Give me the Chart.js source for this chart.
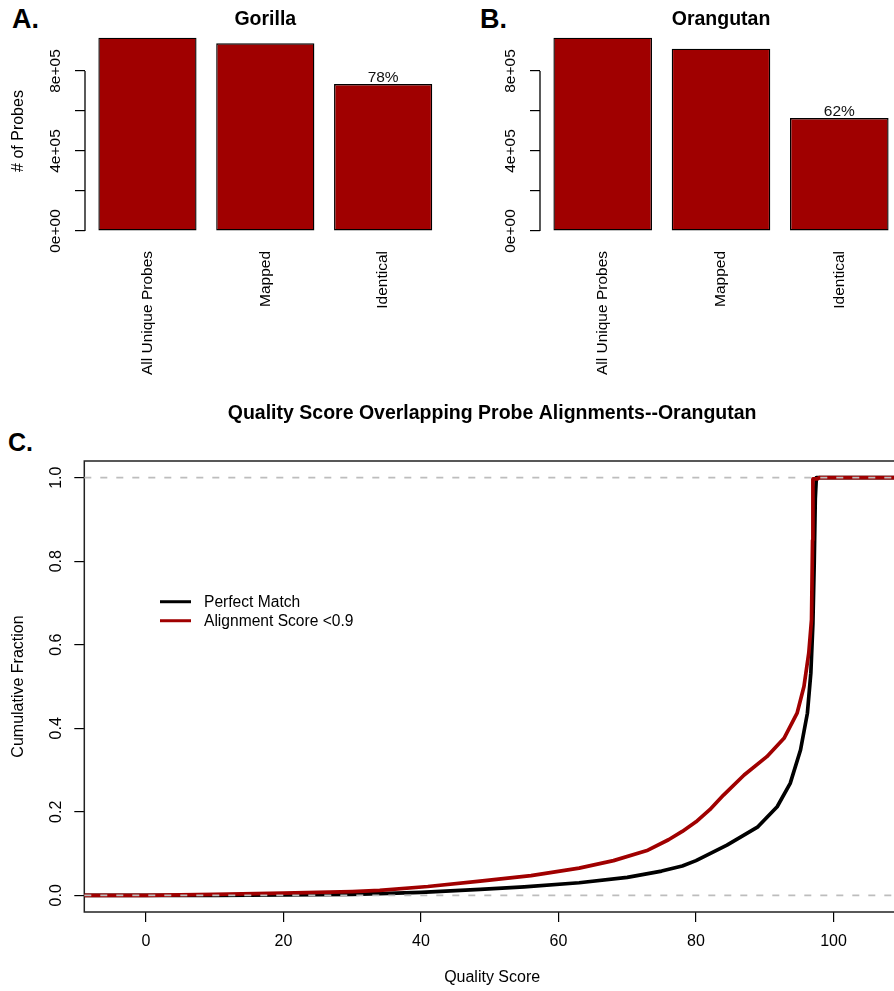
<!DOCTYPE html>
<html lang="en">
<head>
  <meta charset="UTF-8">
  <title>Probe alignment summary</title>
  <script src="https://cdn.jsdelivr.net/npm/chart.js"></script>
  <style>
    html, body { margin: 0; padding: 0; overflow: hidden; background: #fff; }
    body {
      width: 894px;
      height: 991px;
      position: relative;
      font-family: 'Liberation Sans', Arial, Helvetica, sans-serif;
    }
    canvas { position: absolute; }
    #gorilla { left: 0; top: 0; }
    #orangutan { left: 455px; top: 0; }
    #quality { left: 0; top: 390px; }
    /* panel letters */
    .tag { position: absolute; font-weight: bold; font-size: 27px; line-height: 27px; color: #000; }
  </style>
</head>
<body>
  <div class="tag" style="left:12px;top:6px">A.</div>
  <div class="tag" style="left:480px;top:6px">B.</div>
  <div class="tag" style="left:8px;top:430px;font-size:25px;line-height:25px">C.</div>
  <canvas id="gorilla" width="450" height="390"></canvas>
  <canvas id="orangutan" width="450" height="390"></canvas>
  <canvas id="quality" width="910" height="601"></canvas>

  <script>
    // panels A and B
    const barCategories = ['All Unique Probes', 'Mapped', 'Identical'];
    const gorillaCounts = [966500, 938500, 735000];
    const orangutanCounts = [966500, 911500, 565000];
    const gorillaPct = ['', '', '78%'];
    const orangutanPct = ['', '', '62%'];
    const countTicks = [0, 200000, 400000, 600000, 800000];
    const countTickLabels = ['0e+00', '', '4e+05', '', '8e+05'];

    // panel C
    const pmScore = [-9, 10, 20, 30, 34, 40, 48.6, 55, 63, 70, 75, 78, 80, 84.5, 89, 91.8, 93.7, 95.2, 96.2, 96.7, 97.0, 97.2, 97.35, 97.5, 112];
    const pmFrac  = [0, 0, 0.001, 0.002, 0.004, 0.007, 0.014, 0.02, 0.03, 0.043, 0.058, 0.07, 0.083, 0.12, 0.164, 0.212, 0.268, 0.348, 0.436, 0.532, 0.65, 0.8, 0.95, 1.0, 1.0];
    const lowScore = [-9, 0, 10, 20, 30, 34, 41, 48.6, 56, 63, 68, 73, 76, 78, 80, 82, 84, 87, 90.3, 92.8, 94.7, 95.7, 96.4, 96.8, 96.95, 97.0, 97.7, 97.9, 112];
    const lowFrac  = [0, 0, 0.002, 0.005, 0.009, 0.012, 0.021, 0.034, 0.047, 0.065, 0.083, 0.108, 0.133, 0.153, 0.176, 0.205, 0.24, 0.288, 0.332, 0.376, 0.436, 0.5, 0.58, 0.66, 0.85, 0.997, 0.997, 1.0, 1.0];
    const scoreTicks = [0, 20, 40, 60, 80, 100];
    const fracTicks = [0, 0.2, 0.4, 0.6, 0.8, 1.0];
    const refLines = [0, 1];

    const FONT = "'Liberation Sans', Arial, Helvetica, sans-serif";
    Chart.defaults.font.family = FONT;
    Chart.defaults.color = '#000';
    const darkRed = '#A00000';

    // R style axis line, only from first to last tick
    const countAxisLine = {
      id: 'countAxisLine',
      afterDraw(chart) {
        const y = chart.scales.y;
        const ctx = chart.ctx;
        const x0 = chart.chartArea.left;
        ctx.save();
        ctx.strokeStyle = '#000';
        ctx.lineWidth = 1.3;
        ctx.beginPath();
        ctx.moveTo(x0, y.getPixelForValue(countTicks[0]));
        ctx.lineTo(x0, y.getPixelForValue(countTicks[countTicks.length - 1]));
        ctx.stroke();
        ctx.restore();
      }
    };

    const pctLabels = {
      id: 'pctLabels',
      afterDatasetsDraw(chart, args, opts) {
        const ctx = chart.ctx;
        const bars = chart.getDatasetMeta(0).data;
        ctx.save();
        ctx.font = '15.5px ' + FONT;
        ctx.fillStyle = '#111';
        ctx.textAlign = 'center';
        ctx.textBaseline = 'alphabetic';
        bars.forEach((bar, i) => {
          if (opts.labels[i]) ctx.fillText(opts.labels[i], bar.x, bar.y - 2);
        });
        ctx.restore();
      }
    };

    function barChart(id, title, counts, pct, yTitle, padRight) {
      return new Chart(document.getElementById(id), {
        type: 'bar',
        data: {
          datasets: [{
            data: counts.map((v, i) => ({ x: i, y: v })),
            backgroundColor: darkRed,
            borderColor: '#000',
            borderWidth: 1.4,
            borderSkipped: false,
            categoryPercentage: 1,
            barPercentage: 1 / 1.2
          }]
        },
        options: {
          responsive: false,
          animation: false,
          layout: { padding: { left: 0, right: padRight, top: 0, bottom: 0 } },
          plugins: {
            legend: { display: false },
            tooltip: { enabled: false },
            title: {
              display: true,
              text: title,
              fullSize: false,
              font: { size: 19.5, weight: 'bold' },
              padding: { top: 7.6, bottom: 0 }
            },
            pctLabels: { labels: pct }
          },
          scales: {
            x: {
              type: 'linear',
              min: -0.53,
              max: 2.53,
              offset: false,
              grid: { display: false, drawTicks: false },
              border: { display: false },
              afterBuildTicks: s => { s.ticks = barCategories.map((c, i) => ({ value: i })); },
              afterFit: s => { s.height = 159; },
              ticks: {
                autoSkip: false,
                minRotation: 90,
                maxRotation: 90,
                padding: 20,
                font: { size: 15.5 },
                callback: v => barCategories[v]
              }
            },
            y: {
              min: 0,
              max: 1000000,
              border: { display: false },
              grid: { drawOnChartArea: false, drawTicks: true, tickLength: 10, color: '#000', lineWidth: 1.2 },
              afterBuildTicks: s => { s.ticks = countTicks.map(v => ({ value: v })); },
              afterFit: s => { s.width = 85; },
              ticks: {
                autoSkip: false,
                minRotation: 90,
                maxRotation: 90,
                crossAlign: 'center',
                padding: -2.75,
                font: { size: 15.5 },
                callback: v => countTickLabels[countTicks.indexOf(v)]
              },
              title: {
                display: !!yTitle,
                text: yTitle,
                font: { size: 16 },
                padding: { top: 9.1, bottom: 0 }
              }
            }
          }
        },
        plugins: [countAxisLine, pctLabels]
      });
    }

    barChart('gorilla', 'Gorilla', gorillaCounts, gorillaPct, '# of Probes', 4.4);
    barChart('orangutan', 'Orangutan', orangutanCounts, orangutanPct, '', 3);

    // box round the plot region
    const frame = {
      id: 'frame',
      beforeDatasetsDraw(chart) {
        const a = chart.chartArea;
        const ctx = chart.ctx;
        ctx.save();
        ctx.strokeStyle = '#222';
        ctx.lineWidth = 1.5;
        ctx.strokeRect(a.left, a.top, a.right - a.left, a.bottom - a.top);
        ctx.restore();
      }
    };

    // grey dashed abline()s, drawn over the curves
    const dashedRefs = {
      id: 'dashedRefs',
      afterDatasetsDraw(chart) {
        const a = chart.chartArea;
        const y = chart.scales.y;
        const ctx = chart.ctx;
        ctx.save();
        ctx.strokeStyle = '#bdbdbd';
        ctx.lineWidth = 1.8;
        ctx.setLineDash([7, 9]);
        refLines.forEach(v => {
          const py = y.getPixelForValue(v);
          ctx.beginPath();
          ctx.moveTo(a.left, py);
          ctx.lineTo(a.right, py);
          ctx.stroke();
        });
        ctx.restore();
      }
    };

    // legend inside the plot, no box
    const innerLegend = {
      id: 'innerLegend',
      afterDraw(chart, args, opts) {
        const ctx = chart.ctx;
        const x0 = chart.scales.x.getPixelForValue(opts.x);
        const y0 = chart.scales.y.getPixelForValue(opts.y);
        ctx.save();
        ctx.font = '15.6px ' + FONT;
        ctx.textBaseline = 'middle';
        ctx.textAlign = 'left';
        chart.data.datasets.forEach((ds, i) => {
          const yy = y0 + i * opts.rowGap;
          ctx.strokeStyle = ds.borderColor;
          ctx.lineWidth = 3;
          ctx.beginPath();
          ctx.moveTo(x0, yy);
          ctx.lineTo(x0 + 31, yy);
          ctx.stroke();
          ctx.fillStyle = '#000';
          ctx.fillText(ds.label, x0 + 44, yy + 1);
        });
        ctx.restore();
      }
    };

    new Chart(document.getElementById('quality'), {
      type: 'line',
      data: {
        datasets: [
          {
            label: 'Perfect Match',
            data: pmScore.map((q, i) => ({ x: q, y: pmFrac[i] })),
            borderColor: '#000',
            borderWidth: 3.7,
            pointRadius: 0,
            tension: 0,
            borderJoinStyle: 'round',
            order: 1
          },
          {
            label: 'Alignment Score <0.9',
            data: lowScore.map((q, i) => ({ x: q, y: lowFrac[i] })),
            borderColor: darkRed,
            borderWidth: 3.7,
            pointRadius: 0,
            tension: 0,
            borderJoinStyle: 'round',
            order: 0
          }
        ]
      },
      options: {
        responsive: false,
        animation: false,
        layout: { padding: { left: 0, right: 10, top: 0, bottom: 0 } },
        plugins: {
          legend: { display: false },
          tooltip: { enabled: false },
          title: {
            display: true,
            text: 'Quality Score Overlapping Probe Alignments--Orangutan',
            fullSize: false,
            font: { size: 19.5, weight: 'bold' },
            padding: { top: 12, bottom: 35.6 }
          },
          innerLegend: { x: 2.04, y: 0.703, rowGap: 19 }
        },
        scales: {
          x: {
            type: 'linear',
            min: -8.97,
            max: 109.67,
            border: { display: false },
            grid: { drawOnChartArea: false, drawTicks: true, tickLength: 10, color: '#000', lineWidth: 1.2 },
            afterBuildTicks: s => { s.ticks = scoreTicks.map(v => ({ value: v })); },
            afterFit: s => { s.height = 79; },
            ticks: { autoSkip: false, maxRotation: 0, padding: 10.4, font: { size: 16 } },
            title: {
              display: true,
              text: 'Quality Score',
              font: { size: 16 },
              padding: { top: 0, bottom: 3.4 }
            }
          },
          y: {
            type: 'linear',
            min: -0.04,
            max: 1.04,
            border: { display: false },
            grid: { drawOnChartArea: false, drawTicks: true, tickLength: 10, color: '#000', lineWidth: 1.2 },
            afterBuildTicks: s => { s.ticks = fracTicks.map(v => ({ value: v })); },
            afterFit: s => { s.width = 84.3; },
            ticks: {
              autoSkip: false,
              minRotation: 90,
              maxRotation: 90,
              crossAlign: 'center',
              padding: 7,
              font: { size: 16 },
              callback: v => v.toFixed(1)
            },
            title: {
              display: true,
              text: 'Cumulative Fraction',
              font: { size: 16 },
              padding: { top: 8.9, bottom: 0 }
            }
          }
        }
      },
      plugins: [frame, dashedRefs, innerLegend]
    });
  </script>
</body>
</html>
